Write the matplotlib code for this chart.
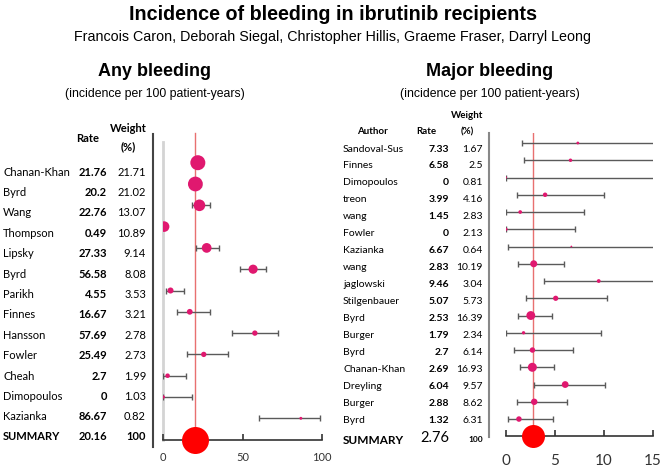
import matplotlib
matplotlib.use("Agg")
import matplotlib.pyplot as plt
import numpy as np

W, H = 665, 472

# ---- any bleeding ----
any_names = ["Chanan-Khan", "Byrd", "Wang", "Thompson", "Lipsky", "Byrd", "Parikh",
             "Finnes", "Hansson", "Fowler", "Cheah", "Dimopoulos", "Kazianka"]
any_rate = [21.76, 20.2, 22.76, 0.49, 27.33, 56.58, 4.55, 16.67, 57.69, 25.49, 2.7, 0, 86.67]
any_weight = [21.71, 21.02, 13.07, 10.89, 9.14, 8.08, 3.53, 3.21, 2.78, 2.73, 1.99, 1.03, 0.82]
any_lo = [18.5, 17.0, 18.1, 0.1, 20.7, 48.2, 1.5, 8.6, 43.6, 14.9, 0.0, 0.0, 60.0]
any_hi = [25.0, 23.5, 29.6, 1.5, 35.4, 65.0, 13.0, 29.2, 72.0, 40.5, 14.0, 18.3, 98.5]
any_summary = 20.16
any_ticks = [0, 50, 100]

# ---- major bleeding ----
maj_names = ["Sandoval-Sus", "Finnes", "Dimopoulos", "treon", "wang", "Fowler", "Kazianka",
             "wang", "jaglowski", "Stilgenbauer", "Byrd", "Burger", "Byrd", "Chanan-Khan",
             "Dreyling", "Burger", "Byrd"]
maj_rate = [7.33, 6.58, 0, 3.99, 1.45, 0, 6.67, 2.83, 9.46, 5.07, 2.53, 1.79, 2.7, 2.69,
            6.04, 2.88, 1.32]
maj_weight = [1.67, 2.5, 0.81, 4.16, 2.83, 2.13, 0.64, 10.19, 3.04, 5.73, 16.39, 2.34,
              6.14, 16.93, 9.57, 8.62, 6.31]
maj_lo = [1.6, 1.87, 0.0, 1.09, 0.0, 0.0, 0.17, 1.19, 3.9, 2.04, 1.19, 0.02, 0.82, 1.43,
          2.86, 1.09, 0.24]
maj_hi = [22.0, 17.5, 20.0, 10.0, 8.0, 7.05, 30.0, 5.89, 19.0, 10.3, 4.66, 9.7, 6.87, 4.9,
          10.1, 6.26, 4.76]
maj_summary = 2.76
maj_ticks = [0, 5, 10, 15]

PINK = "#E0186F"
HEAD = ["Liberation Sans", "DejaVu Sans"]
BODY = ["Lato", "DejaVu Sans"]


def px_axes(fig, left, top, right, bottom):
    return fig.add_axes([left / W, 1 - bottom / H, (right - left) / W, (bottom - top) / H])


def forest(ax, rate, weight, lo, hi, summary, ticks, k, sum_d, ytop, ticksize, pad):
    n = len(rate)
    rows = np.arange(n)
    rate = np.array(rate)
    xerr = [rate - np.array(lo), np.array(hi) - rate]
    ax.errorbar(rate, rows, xerr=xerr, fmt="none", ecolor="#5a5a5a", elinewidth=1,
                capsize=2, capthick=1, zorder=2)
    d_pt = k * np.sqrt(weight) * 72 / 100
    ax.scatter(rate, rows, s=d_pt ** 2, color=PINK, linewidths=0, zorder=3)
    ax.scatter([summary], [n], s=(sum_d * 72 / 100) ** 2, color="#FF0000", linewidths=0,
               zorder=4, clip_on=False)
    ax.set_xlim(ticks[0], ticks[-1])
    ax.set_ylim(n, ytop)
    ax.set_facecolor("none")
    for s in ["top", "left", "right"]:
        ax.spines[s].set_visible(False)
    ax.spines["bottom"].set_color("#333333")
    ax.spines["bottom"].set_linewidth(1.2)
    ax.set_yticks([])
    ax.set_xticks(ticks)
    ax.set_xticklabels([str(t) for t in ticks], family=BODY, fontsize=ticksize, color="#333333")
    ax.tick_params(axis="x", direction="in", length=4, width=1.2, color="#333333", pad=pad)


fig = plt.figure(figsize=(W / 100, H / 100), dpi=100)

# pixel overlay for the text tables
ov = fig.add_axes([0, 0, 1, 1])
ov.set_xlim(0, W)
ov.set_ylim(H, 0)
ov.axis("off")

ov.text(333, 15, "Incidence of bleeding in ibrutinib recipients", ha="center", va="center",
        family=HEAD, fontweight="bold", fontsize=14.2)
ov.text(333, 37, "Francois Caron, Deborah Siegal, Christopher Hillis, Graeme Fraser, Darryl Leong",
        ha="center", va="center", family=HEAD, fontsize=10.3)
ov.text(155, 72, "Any bleeding", ha="center", va="center", family=HEAD, fontweight="bold",
        fontsize=13)
ov.text(155, 94, "(incidence per 100 patient-years)", ha="center", va="center", family=HEAD,
        fontsize=8.8)
ov.text(490, 72, "Major bleeding", ha="center", va="center", family=HEAD, fontweight="bold",
        fontsize=13)
ov.text(490, 94, "(incidence per 100 patient-years)", ha="center", va="center", family=HEAD,
        fontsize=8.8)

# left table
ov.text(88, 138, "Rate", ha="center", va="center", family=BODY, fontweight="bold", fontsize=8)
ov.text(128, 129, "Weight", ha="center", va="center", family=BODY, fontweight="bold", fontsize=8)
ov.text(128, 147, "(%)", ha="center", va="center", family=BODY, fontweight="bold", fontsize=8)
for i, (nm, r, w) in enumerate(zip(any_names, any_rate, any_weight)):
    y = 172 + 20.4 * i
    ov.text(3, y, nm, ha="left", va="center", family=BODY, fontsize=8)
    ov.text(107, y, f"{r:g}", ha="right", va="center", family=BODY, fontweight="bold", fontsize=8)
    ov.text(146, y, f"{w:g}", ha="right", va="center", family=BODY, fontsize=8)
ov.text(3, 437, "SUMMARY", ha="left", va="center", family=BODY, fontweight="bold", fontsize=8)
ov.text(107, 437, f"{any_summary:g}", ha="right", va="center", family=BODY, fontweight="bold", fontsize=8)
ov.text(146, 437, "100", ha="right", va="center", family=BODY, fontweight="bold", fontsize=8)
ov.plot([153, 153], [134, 447], color="#444444", lw=1.5)

# right table
ov.text(372, 132, "Author", ha="center", va="center", family=BODY, fontweight="bold", fontsize=7)
ov.text(426, 132, "Rate", ha="center", va="center", family=BODY, fontweight="bold", fontsize=7)
ov.text(467, 116, "Weight", ha="center", va="center", family=BODY, fontweight="bold", fontsize=7)
ov.text(467, 132, "(%)", ha="center", va="center", family=BODY, fontweight="bold", fontsize=7)
for i, (nm, r, w) in enumerate(zip(maj_names, maj_rate, maj_weight)):
    y = 149 + 16.94 * i
    ov.text(343, y, nm, ha="left", va="center", family=BODY, fontsize=7.5)
    ov.text(449, y, f"{r:g}", ha="right", va="center", family=BODY, fontweight="bold", fontsize=7.5)
    ov.text(483, y, f"{w:g}", ha="right", va="center", family=BODY, fontsize=7.5)
ov.text(343, 440, "SUMMARY", ha="left", va="center", family=BODY, fontweight="bold", fontsize=8.5)
ov.text(449, 438, f"{maj_summary:g}", ha="right", va="center", family=BODY, fontsize=10.5)
ov.text(483, 440, "100", ha="right", va="center", family=BODY, fontweight="bold", fontsize=6)
ov.plot([489, 489], [133, 437], color="#888888", lw=1.5)

# forest panels
ax1 = px_axes(fig, 163.3, 142, 322, 439.6)
forest(ax1, any_rate, any_weight, any_lo, any_hi, any_summary, any_ticks,
       3.22, 27, -0.972, 8, 9)
ax1.axvline(0, color="#d4d4d4", lw=2, clip_on=False, zorder=1)
ax1.axvline(any_summary, ymax=1.03, color="#E87070", lw=1, clip_on=False, zorder=1)

ax2 = px_axes(fig, 506, 133, 653, 436.3)
forest(ax2, maj_rate, maj_weight, maj_lo, maj_hi, maj_summary, maj_ticks,
       2.19, 23, -0.58, 11, 13)
ax2.axvline(maj_summary, color="#E87070", lw=1, zorder=1)

fig.savefig("out.png", dpi=100)
